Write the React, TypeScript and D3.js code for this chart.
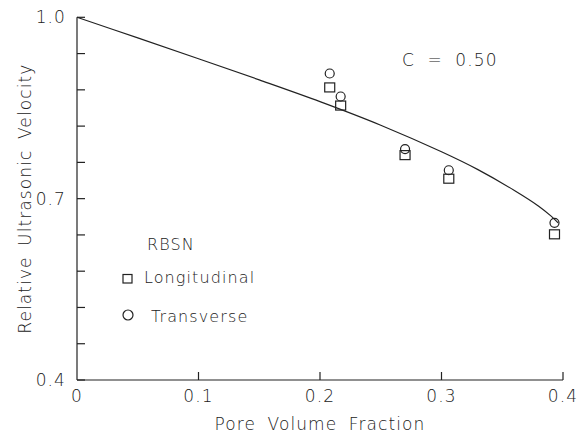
import React from 'react';
import * as d3 from 'd3';

// fitted curve
const curveX = [0, 0.05, 0.1, 0.15, 0.2, 0.25, 0.3, 0.33, 0.36, 0.38, 0.39, 0.396];
const curveY = [1.0, 0.966, 0.9315, 0.8965, 0.8605, 0.8215, 0.7775, 0.748, 0.7135, 0.6875, 0.6715, 0.66];

// measured points
const longX = [0.208, 0.217, 0.27, 0.306, 0.393];
const longY = [0.884, 0.854, 0.772, 0.733, 0.641];
const transX = [0.208, 0.217, 0.27, 0.306, 0.393];
const transY = [0.907, 0.869, 0.782, 0.747, 0.66];

const yTicks = [0.4, 0.46, 0.52, 0.58, 0.64, 0.7, 0.76, 0.82, 0.88, 0.94, 1.0];
const yLabels = [0.4, 0.7, 1.0];
const xTicks = [0.1, 0.2, 0.3, 0.4];
const xLabels = [0, 0.1, 0.2, 0.3, 0.4];

const W = 586;
const H = 435;
const font = '"DejaVu Sans", sans-serif';
const ink = '#222';

export default function App() {
  const x = d3.scaleLinear().domain([0, 0.4]).range([77, 563]);
  const y = d3.scaleLinear().domain([0.4, 1.0]).range([380, 17.3]);

  const line = d3.line<number>()
    .x((d, i) => x(curveX[i]))
    .y(d => y(d))
    .curve(d3.curveCatmullRom.alpha(0.5));

  const txt = {
    fontFamily: font,
    fontWeight: 200,
    fill: ink,
    letterSpacing: 1.1,
  } as React.CSSProperties;

  return (
    <svg width={W} height={H} style={{position: 'absolute', left: 0, top: 0, background: '#fff'}}>
      <g stroke={ink} strokeWidth={1.2} fill="none">
        {/* axes */}
        <line x1={x(0)} x2={x(0)} y1={y(1.0)} y2={y(0.4)} />
        <line x1={x(0)} x2={x(0.4)} y1={y(0.4)} y2={y(0.4)} />
        {yTicks.map(t => (
          <line key={'yt' + t} x1={x(0)} x2={x(0) + 8} y1={y(t)} y2={y(t)} />
        ))}
        {xTicks.map(t => (
          <line key={'xt' + t} x1={x(t)} x2={x(t)} y1={y(0.4)} y2={y(0.4) - 8} />
        ))}
        <path d={line(curveY) || ''} />
        {longX.map((v, i) => (
          <rect key={'l' + i} x={x(v) - 5} y={y(longY[i]) - 4.5} width={10} height={9} />
        ))}
        {transX.map((v, i) => (
          <circle key={'t' + i} cx={x(v)} cy={y(transY[i])} r={4.5} />
        ))}
        {/* legend markers */}
        <rect x={123} y={274.5} width={9} height={8.5} />
        <circle cx={128} cy={315} r={5} />
      </g>

      {yLabels.map(t => (
        <text key={'yl' + t} x={66} y={y(t)} dy="0.36em" textAnchor="end" fontSize={17} style={txt}>
          {t.toFixed(1)}
        </text>
      ))}
      {xLabels.map(t => (
        <text key={'xl' + t} x={x(t)} y={402} textAnchor="middle" fontSize={17} style={txt}>
          {t === 0 ? '0' : t.toFixed(1)}
        </text>
      ))}

      <text x={(x(0) + x(0.4)) / 2} y={430} textAnchor="middle" fontSize={17} style={{...txt, wordSpacing: 5}}>
        Pore Volume Fraction
      </text>
      <text transform={`translate(31,${y(0.7)}) rotate(-90)`} textAnchor="middle" fontSize={17} style={{...txt, wordSpacing: 4}}>
        Relative Ultrasonic Velocity
      </text>

      <text x={402} y={66} fontSize={17} style={{...txt, wordSpacing: 6}}>C = 0.50</text>

      <text x={147} y={250} fontSize={16} style={txt}>RBSN</text>
      <text x={144} y={283} fontSize={16} style={txt}>Longitudinal</text>
      <text x={151} y={322} fontSize={16} style={txt}>Transverse</text>
    </svg>
  );
}
